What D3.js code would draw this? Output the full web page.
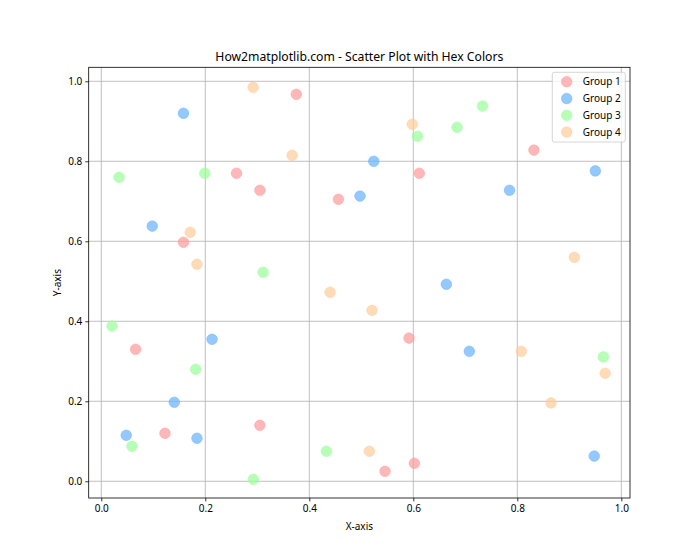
<!DOCTYPE html>
<html><head><meta charset="utf-8">
<script src="https://cdn.jsdelivr.net/npm/d3@7"></script>
<style>body{margin:0;background:#fff;} text{font-family:"Noto Sans",sans-serif;fill:#000;}</style>
</head><body><svg id="c" width="700" height="560"></svg>
<script>
const groups = ["Group 1","Group 2","Group 3","Group 4"];
const colors = ["#FF9999","#66B2FF","#99FF99","#FFCC99"];
const g1x = [0.375,0.26,0.305,0.456,0.6115,0.832,0.158,0.066,0.5917,0.1225,0.305,0.5456,0.602];
const g1y = [0.9675,0.77,0.7275,0.705,0.77,0.828,0.5975,0.33,0.358,0.12,0.14,0.025,0.045];
const g2x = [0.158,0.4975,0.524,0.785,0.95,0.098,0.213,0.6635,0.1404,0.048,0.184,0.7077,0.948];
const g2y = [0.92,0.713,0.80,0.7275,0.776,0.638,0.355,0.4925,0.1975,0.115,0.1075,0.325,0.063];
const g3x = [0.034,0.199,0.608,0.684,0.733,0.311,0.0206,0.1815,0.059,0.2923,0.4327,0.9654];
const g3y = [0.76,0.77,0.8625,0.885,0.938,0.5225,0.388,0.28,0.0875,0.005,0.075,0.311];
const g4x = [0.292,0.367,0.598,0.171,0.184,0.440,0.9096,0.5206,0.8077,0.969,0.8648,0.5154];
const g4y = [0.985,0.815,0.8925,0.6225,0.5425,0.4725,0.56,0.4275,0.325,0.27,0.196,0.075];
const xTicks = [0,0.2,0.4,0.6,0.8,1.0];
const yTicks = [0,0.2,0.4,0.6,0.8,1.0];
const title = "How2matplotlib.com - Scatter Plot with Hex Colors";

const L=88.7,R=630,T=67.3,B=498;
const x = d3.scaleLinear().domain([-0.0242,1.0167]).range([L,R]);
const y = d3.scaleLinear().domain([-0.0418,1.035]).range([B,T]);
const svg = d3.select("#c");

// grid
svg.append("g").selectAll("line").data(xTicks).join("line")
  .attr("x1",d=>x(d)).attr("x2",d=>x(d)).attr("y1",T).attr("y2",B)
  .attr("stroke","#b0b0b0").attr("stroke-width",0.8);
svg.append("g").selectAll("line").data(yTicks).join("line")
  .attr("y1",d=>y(d)).attr("y2",d=>y(d)).attr("x1",L).attr("x2",R)
  .attr("stroke","#b0b0b0").attr("stroke-width",0.8);

// points
const sets = [[g1x,g1y],[g2x,g2y],[g3x,g3y],[g4x,g4y]];
sets.forEach(([xs,ys],i)=>{
  svg.append("g").selectAll("circle").data(xs.map((v,j)=>[v,ys[j]])).join("circle")
    .attr("cx",d=>x(d[0])).attr("cy",d=>y(d[1])).attr("r",5.3)
    .attr("fill",colors[i]).attr("fill-opacity",0.7)
    .attr("stroke",colors[i]).attr("stroke-opacity",0.7).attr("stroke-width",0.7);
});

// axes
const xa = svg.append("g").attr("transform",`translate(0,${B})`)
  .call(d3.axisBottom(x).tickValues(xTicks).tickFormat(d3.format(".1f")).tickSize(3.4).tickPadding(3));
const ya = svg.append("g").attr("transform",`translate(${L},0)`)
  .call(d3.axisLeft(y).tickValues(yTicks).tickFormat(d3.format(".1f")).tickSize(3.4).tickPadding(3));
[xa,ya].forEach(a=>{a.select(".domain").remove();
  a.selectAll("line").attr("stroke","#000").attr("stroke-width",0.8);
  a.selectAll("text").attr("font-family","Noto Sans, sans-serif").attr("font-size",10).attr("fill","#000");});
svg.append("rect").attr("x",L).attr("y",T).attr("width",R-L).attr("height",B-T)
  .attr("fill","none").attr("stroke","#000").attr("stroke-width",0.8);

// labels
svg.append("text").attr("x",(L+R)/2).attr("y",61).attr("text-anchor","middle").attr("font-size",12.2).text(title);
svg.append("text").attr("x",(L+R)/2).attr("y",530).attr("text-anchor","middle").attr("font-size",10).text("X-axis");
svg.append("text").attr("transform",`translate(61,${(T+B)/2}) rotate(-90)`).attr("text-anchor","middle").attr("font-size",10).text("Y-axis");

// legend
const lg = svg.append("g");
lg.append("rect").attr("x",552.3).attr("y",72.3).attr("width",73).attr("height",69.7).attr("rx",2)
  .attr("fill","#fff").attr("fill-opacity",0.8).attr("stroke","#cccccc").attr("stroke-width",0.8);
groups.forEach((gname,i)=>{
  const yy = 81.7 + i*16.8;
  lg.append("circle").attr("cx",566.7).attr("cy",yy).attr("r",5.3).attr("fill",colors[i]).attr("fill-opacity",0.7)
    .attr("stroke",colors[i]).attr("stroke-opacity",0.7).attr("stroke-width",0.7);
  lg.append("text").attr("x",582.7).attr("y",yy).attr("dy","0.35em").attr("font-size",10).text(gname);
});
</script></body></html>
